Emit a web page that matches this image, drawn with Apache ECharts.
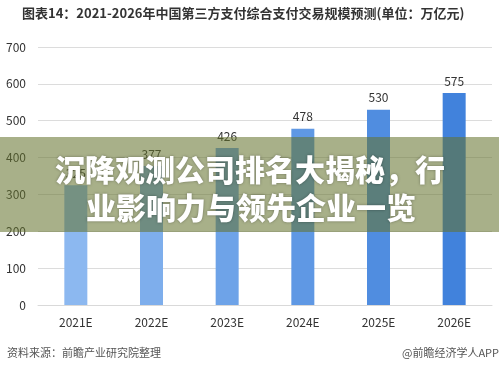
<!DOCTYPE html>
<html>
<head>
<meta charset="utf-8">
<script src="https://cdn.jsdelivr.net/npm/echarts@6/dist/echarts.min.js"></script>
<style>
html,body{margin:0;padding:0;background:#fff;}
#c{width:499px;height:371px;}
</style>
</head>
<body>
<div id="c"></div>
<script>
var titleText = '图表14：2021-2026年中国第三方支付综合支付交易规模预测(单位：万亿元)';
var categories = ['2021E', '2022E', '2023E', '2024E', '2025E', '2026E'];
var values = [325, 377, 426, 478, 530, 575];
var barColors = ['#8cb8f0', '#7eaeec', '#6ea3e8', '#5f98e4', '#508de0', '#4182dc'];
var yTicks = [0, 100, 200, 300, 400, 500, 600, 700];
var sourceText = '资料来源：前瞻产业研究院整理';
var brandText = '@前瞻经济学人APP';
var bannerLines = ['沉降观测公司排名大揭秘，行', '业影响力与领先企业一览'];

var font = '"Noto Sans CJK SC", "Noto Sans", sans-serif';
var chart = echarts.init(document.getElementById('c'), null, {renderer: 'canvas'});
chart.setOption({
  animation: false,
  backgroundColor: '#ffffff',
  title: {
    text: titleText,
    left: 22, top: 7, padding: 0,
    textStyle: {fontFamily: font, fontSize: 13, fontWeight: 'bold', color: '#333'}
  },
  grid: {left: 38, right: 7, top: 47, bottom: 66},
  xAxis: {
    type: 'category',
    data: categories,
    axisTick: {show: false},
    axisLine: {lineStyle: {color: '#d9d9d9'}},
    axisLabel: {color: '#333', fontSize: 12, margin: 11, fontFamily: font}
  },
  yAxis: {
    type: 'value',
    min: yTicks[0], max: yTicks[yTicks.length - 1], interval: 100,
    axisLine: {show: false},
    axisTick: {show: false},
    splitLine: {lineStyle: {color: '#dcdcdc'}},
    axisLabel: {color: '#333', fontSize: 12, margin: 12, fontFamily: font}
  },
  series: [{
    type: 'bar',
    barWidth: 23,
    data: values.map(function (v, i) { return {value: v, itemStyle: {color: barColors[i]}}; }),
    label: {show: true, position: 'top', distance: 6, color: '#333', fontSize: 12, fontFamily: font}
  }],
  graphic: [
    {type: 'text', left: 7, top: 347, style: {text: sourceText, fill: '#555', font: '11px ' + font}},
    {type: 'text', right: 0, top: 347, style: {text: brandText, fill: '#555', font: '11px ' + font}},
    {type: 'rect', z: 100, shape: {x: 0, y: 137, width: 499, height: 95}, style: {fill: 'rgba(100,115,45,0.56)'}},
    {type: 'text', z: 101, x: 250, y: 170, style: {text: bannerLines[0], fill: '#fff', textAlign: 'center', textVerticalAlign: 'middle', font: '900 30px ' + font, textShadowColor: 'rgba(0,0,0,0.35)', textShadowBlur: 3}},
    {type: 'text', z: 101, x: 251, y: 208, style: {text: bannerLines[1], fill: '#fff', textAlign: 'center', textVerticalAlign: 'middle', font: '900 30px ' + font, textShadowColor: 'rgba(0,0,0,0.35)', textShadowBlur: 3}}
  ]
});
</script>
</body>
</html>
